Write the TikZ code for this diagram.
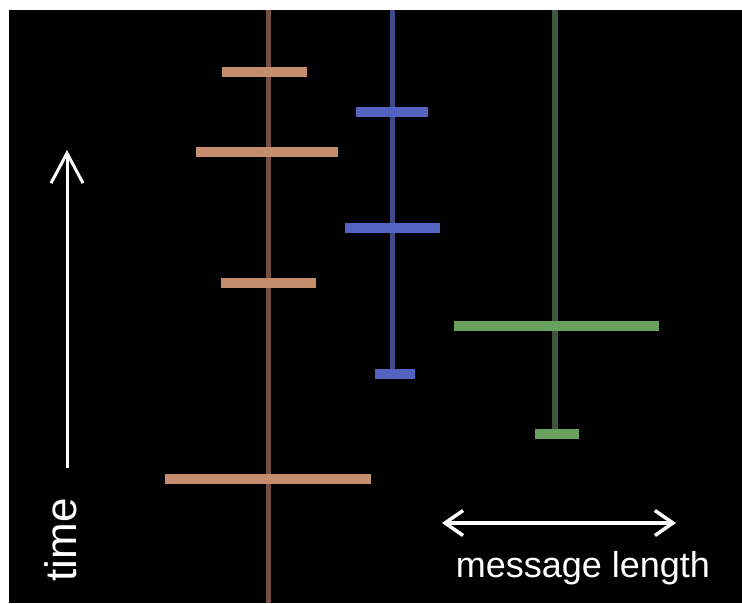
\documentclass[tikz,border=0pt]{standalone}
\usepackage{fontspec}
\setmainfont{Liberation Sans}
\usetikzlibrary{arrows.meta}

\definecolor{copperline}{RGB}{116,78,62}
\definecolor{copperbar}{RGB}{196,142,110}
\definecolor{blueline}{RGB}{62,74,140}
\definecolor{bluebar}{RGB}{84,98,192}
\definecolor{greenline}{RGB}{62,86,62}
\definecolor{greenbar}{RGB}{104,162,94}

\begin{document}
\begin{tikzpicture}[x=1pt,y=-1pt,
  msgbar/.style={rectangle, inner sep=0pt, minimum height=10pt},
  thread/.style={line width=5pt},
  label/.style={text=white, inner sep=0pt}]

\useasboundingbox (0,0) rectangle (742,603);
\fill[black] (9,10) rectangle (742,603);

% threads
\coordinate (coppertop) at (268,10);
\coordinate (copperend) at (268,603);
\coordinate (bluetop) at (392,10);
\coordinate (blueend) at (392,374);
\coordinate (greentop) at (555,10);
\coordinate (greenend) at (555,434);

\draw[thread, copperline] (coppertop) -- (copperend);
\draw[thread, blueline] (bluetop) -- (blueend);
\draw[thread, greenline, line width=6pt] (greentop) -- (greenend);

% messages
\node (copperA) [msgbar, fill=copperbar, minimum width=85pt] at (264,72) {};
\node (copperB) [msgbar, fill=copperbar, minimum width=142pt] at (267,152) {};
\node (copperC) [msgbar, fill=copperbar, minimum width=95pt] at (268,283) {};
\node (copperD) [msgbar, fill=copperbar, minimum width=206pt] at (268,479) {};

\node (blueA) [msgbar, fill=bluebar, minimum width=72pt] at (392,112) {};
\node (blueB) [msgbar, fill=bluebar, minimum width=95pt] at (392,228) {};
\node (blueC) [msgbar, fill=bluebar, minimum width=40pt] at (395,374) {};

\node (greenA) [msgbar, fill=greenbar, minimum width=205pt] at (556,326) {};
\node (greenB) [msgbar, fill=greenbar, minimum width=44pt] at (557,434) {};

% axes
\coordinate (timefoot) at (67,468);
\coordinate (timehead) at (67,150);
\draw[white, line width=3pt, -{Straight Barb[length=30pt, width=32pt]}] (timefoot) -- (timehead);
\node (timelabel) [label, rotate=90, font=\fontsize{44}{50}\selectfont] at (61,540) {time};

\coordinate (lengthleft) at (442,523);
\coordinate (lengthright) at (676,523);
\draw[white, line width=3.5pt, {Straight Barb[length=18pt, width=25pt]}-{Straight Barb[length=18pt, width=25pt]}] (lengthleft) -- (lengthright);
\node (lengthlabel) [label, font=\fontsize{36}{42}\selectfont] at (583,568) {message length};

\end{tikzpicture}
\end{document}
